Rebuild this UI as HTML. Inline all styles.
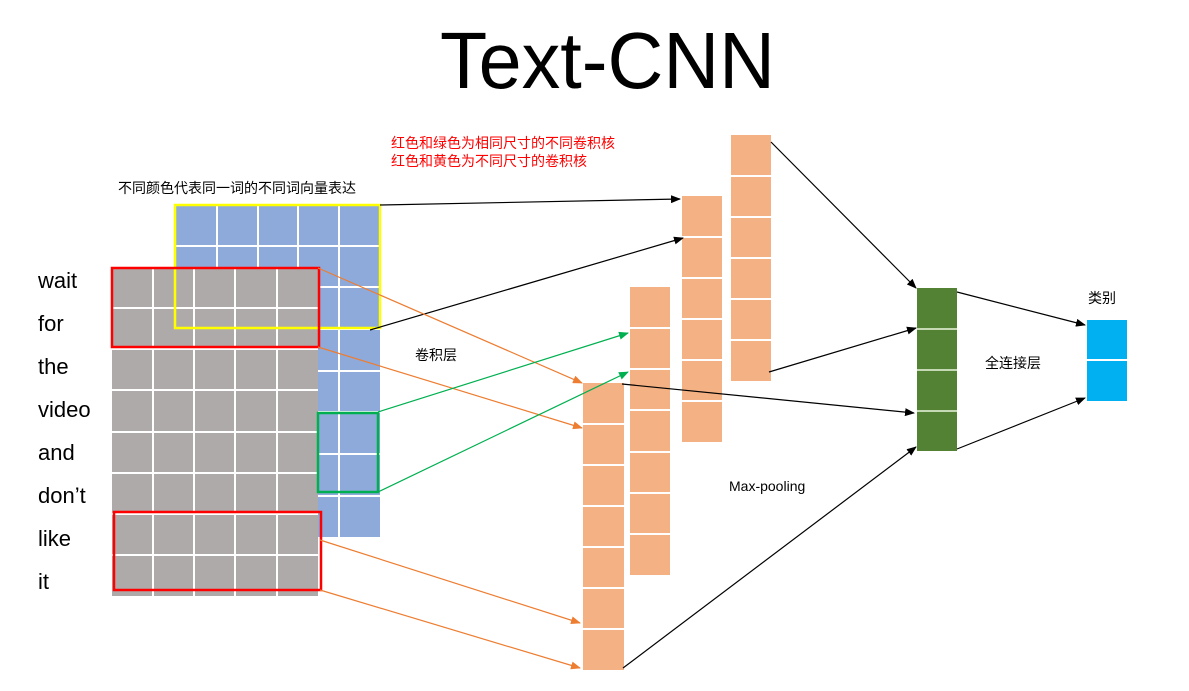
<!DOCTYPE html>
<html><head><meta charset="utf-8"><style>
html,body{margin:0;padding:0;background:#fff;}
svg{display:block;font-family:"Liberation Sans","Noto Sans CJK SC",sans-serif;}
</style></head><body>
<svg width="1189" height="691" viewBox="0 0 1189 691" xmlns="http://www.w3.org/2000/svg">
<defs>
<marker id="ak" markerWidth="10" markerHeight="8" refX="9" refY="4" orient="auto" markerUnits="userSpaceOnUse"><path d="M0,0 L10,4 L0,8 z" fill="#000"/></marker>
<marker id="ao" markerWidth="10" markerHeight="8" refX="9" refY="4" orient="auto" markerUnits="userSpaceOnUse"><path d="M0,0 L10,4 L0,8 z" fill="#ed7d31"/></marker>
<marker id="ag" markerWidth="10" markerHeight="8" refX="9" refY="4" orient="auto" markerUnits="userSpaceOnUse"><path d="M0,0 L10,4 L0,8 z" fill="#00b050"/></marker>
</defs>
<text x="440" y="88" font-size="80" textLength="335" lengthAdjust="spacingAndGlyphs" fill="#000">Text-CNN</text>
<text x="391" y="148" font-size="14" fill="#ff0000">红色和绿色为相同尺寸的不同卷积核</text>
<text x="391" y="166" font-size="14" fill="#ff0000">红色和黄色为不同尺寸的卷积核</text>
<text x="118" y="193" font-size="14" fill="#000">不同颜色代表同一词的不同词向量表达</text>

<!-- blue grid -->
<rect x="176" y="204" width="204" height="333" fill="#8eaadb"/>
<g stroke="#fff" stroke-width="2">
<line x1="217" y1="204" x2="217" y2="537"/><line x1="258" y1="204" x2="258" y2="537"/><line x1="298" y1="204" x2="298" y2="537"/><line x1="339" y1="204" x2="339" y2="537"/>
<line x1="176" y1="246" x2="380" y2="246"/><line x1="176" y1="287" x2="380" y2="287"/><line x1="176" y1="329" x2="380" y2="329"/><line x1="176" y1="371" x2="380" y2="371"/><line x1="176" y1="412" x2="380" y2="412"/><line x1="176" y1="454" x2="380" y2="454"/><line x1="176" y1="496" x2="380" y2="496"/>
</g>
<!-- gray grid -->
<rect x="112" y="267" width="206" height="329" fill="#aeaaaa"/>
<g stroke="#fff" stroke-width="2">
<line x1="153" y1="267" x2="153" y2="596"/><line x1="194" y1="267" x2="194" y2="596"/><line x1="235" y1="267" x2="235" y2="596"/><line x1="277" y1="267" x2="277" y2="596"/>
<line x1="112" y1="308" x2="318" y2="308"/><line x1="112" y1="349" x2="318" y2="349"/><line x1="112" y1="390" x2="318" y2="390"/><line x1="112" y1="432" x2="318" y2="432"/><line x1="112" y1="473" x2="318" y2="473"/><line x1="112" y1="514" x2="318" y2="514"/><line x1="112" y1="555" x2="318" y2="555"/>
</g>
<rect x="175" y="205" width="205" height="123" fill="none" stroke="#ffff00" stroke-width="2.5"/>
<rect x="112" y="268" width="207" height="79" fill="none" stroke="#ff0000" stroke-width="2.5"/>
<rect x="114" y="512" width="207" height="78" fill="none" stroke="#ff0000" stroke-width="2.5"/>
<rect x="318" y="413" width="60" height="79" fill="none" stroke="#00b050" stroke-width="2.5"/>

<g font-size="22" fill="#000">
<text x="38" y="288">wait</text><text x="38" y="331">for</text><text x="38" y="374">the</text><text x="38" y="417">video</text><text x="38" y="460">and</text><text x="38" y="503">don’t</text><text x="38" y="546">like</text><text x="38" y="589">it</text>
</g>

<!-- orange columns -->
<g fill="#f4b183">
<rect x="583" y="383" width="41" height="287"/>
<rect x="630" y="287" width="40" height="288"/>
<rect x="682" y="196" width="40" height="246"/>
<rect x="731" y="135" width="40" height="246"/>
</g>
<g stroke="#fff" stroke-width="2">
<line x1="583" y1="424" x2="624" y2="424"/><line x1="583" y1="465" x2="624" y2="465"/><line x1="583" y1="506" x2="624" y2="506"/><line x1="583" y1="547" x2="624" y2="547"/><line x1="583" y1="588" x2="624" y2="588"/><line x1="583" y1="629" x2="624" y2="629"/>
<line x1="630" y1="328" x2="670" y2="328"/><line x1="630" y1="369" x2="670" y2="369"/><line x1="630" y1="410" x2="670" y2="410"/><line x1="630" y1="452" x2="670" y2="452"/><line x1="630" y1="493" x2="670" y2="493"/><line x1="630" y1="534" x2="670" y2="534"/>
<line x1="682" y1="237" x2="722" y2="237"/><line x1="682" y1="278" x2="722" y2="278"/><line x1="682" y1="319" x2="722" y2="319"/><line x1="682" y1="360" x2="722" y2="360"/><line x1="682" y1="401" x2="722" y2="401"/>
<line x1="731" y1="176" x2="771" y2="176"/><line x1="731" y1="217" x2="771" y2="217"/><line x1="731" y1="258" x2="771" y2="258"/><line x1="731" y1="299" x2="771" y2="299"/><line x1="731" y1="340" x2="771" y2="340"/>
</g>
<!-- green -->
<rect x="917" y="288" width="40" height="163" fill="#548235"/>
<g stroke="#c5d9b5" stroke-width="2"><line x1="917" y1="329" x2="957" y2="329"/><line x1="917" y1="370" x2="957" y2="370"/><line x1="917" y1="411" x2="957" y2="411"/></g>
<!-- output -->
<rect x="1087" y="320" width="40" height="81" fill="#00b0f0"/>
<line x1="1087" y1="360" x2="1127" y2="360" stroke="#fff" stroke-width="2"/>

<!-- arrows -->
<g stroke-width="1.2" fill="none">
<line x1="380" y1="205" x2="680" y2="199" stroke="#000" marker-end="url(#ak)"/>
<line x1="370" y1="330" x2="683" y2="238" stroke="#000" marker-end="url(#ak)"/>
<line x1="318" y1="268" x2="582" y2="383" stroke="#ed7d31" marker-end="url(#ao)"/>
<line x1="318" y1="347" x2="582" y2="428" stroke="#ed7d31" marker-end="url(#ao)"/>
<line x1="320" y1="540" x2="580" y2="623" stroke="#ed7d31" marker-end="url(#ao)"/>
<line x1="320" y1="590" x2="580" y2="668" stroke="#ed7d31" marker-end="url(#ao)"/>
<line x1="378" y1="412" x2="628" y2="333" stroke="#00b050" marker-end="url(#ag)"/>
<line x1="378" y1="492" x2="628" y2="372" stroke="#00b050" marker-end="url(#ag)"/>
<line x1="622" y1="384" x2="914" y2="413" stroke="#000" marker-end="url(#ak)"/>
<line x1="623" y1="668" x2="916" y2="447" stroke="#000" marker-end="url(#ak)"/>
<line x1="771" y1="142" x2="916" y2="288" stroke="#000" marker-end="url(#ak)"/>
<line x1="769" y1="372" x2="916" y2="328" stroke="#000" marker-end="url(#ak)"/>
<line x1="957" y1="292" x2="1085" y2="325" stroke="#000" marker-end="url(#ak)"/>
<line x1="957" y1="449" x2="1085" y2="398" stroke="#000" marker-end="url(#ak)"/>
</g>

<g font-size="14" fill="#000">
<text x="415" y="360">卷积层</text>
<text x="729" y="491">Max-pooling</text>
<text x="985" y="368">全连接层</text>
<text x="1088" y="303">类别</text>
</g>
</svg>
</body></html>
